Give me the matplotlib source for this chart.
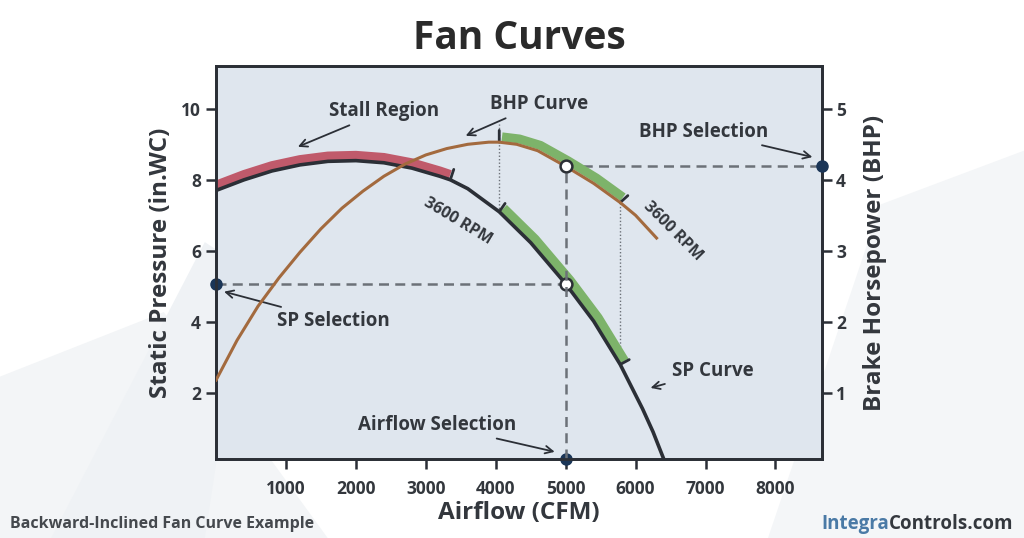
import matplotlib
matplotlib.use("Agg")
import matplotlib.pyplot as plt
from matplotlib.patches import Polygon
from matplotlib.transforms import ScaledTranslation

plt.rcParams["font.family"] = ["Open Sans", "DejaVu Sans"]

# static pressure curve (in.WC)
sp_cfm = [0, 400, 800, 1200, 1600, 2000, 2400, 2800, 3200, 3350, 3600, 4050, 4500,
          5000, 5400, 5780, 6100, 6250, 6400]
sp_val = [7.7, 8.0, 8.25, 8.42, 8.52, 8.54, 8.48, 8.33, 8.1, 8.0, 7.75, 7.1, 6.23,
          5.07, 4.02, 2.8, 1.55, 0.9, 0.15]

# brake horsepower curve (BHP)
bhp_cfm = [0, 300, 600, 900, 1200, 1500, 1800, 2100, 2400, 2700, 3000, 3300, 3600,
           3900, 4050, 4300, 4600, 5000, 5400, 5780, 6000, 6300]
bhp_val = [1.18, 1.74, 2.22, 2.62, 2.98, 3.31, 3.6, 3.84, 4.05, 4.22, 4.35, 4.44, 4.5,
           4.53, 4.53, 4.5, 4.41, 4.19, 3.95, 3.68, 3.5, 3.18]

stall_end = 3350
sel_lo, sel_hi = 4050, 5780
sel_cfm, sel_sp, sel_bhp = 5000, 5.07, 4.19

x_ticks = [1000, 2000, 3000, 4000, 5000, 6000, 7000, 8000]
sp_ticks = [2, 4, 6, 8, 10]
bhp_ticks = [1, 2, 3, 4, 5]

DARK = "#2b2f36"
TXT = "#33373d"
BROWN = "#a36a3e"
RED = "#c05a6b"
GREEN = "#7db36a"
NAVY = "#1a3557"
DASH = "#6c7178"
SCALE = 2.0  # left axis units per right axis unit
XMAX = 8670

fig = plt.figure(figsize=(10.24, 5.38), dpi=100)
fig.patch.set_facecolor("white")

# faint background shapes (behind everything)
for pts, c in [([(0, 0), (0, 0.3), (0.16, 0.42), (0.32, 0)], "#f3f5f7"),
               ([(0.75, 0), (0.86, 0.62), (1, 0.72), (1, 0)], "#f4f6f8"),
               ([(0.05, 0), (0.2, 0.55), (0.24, 0.5), (0.2, 0)], "#eff2f5")]:
    fig.patches.append(Polygon(pts, closed=True, transform=fig.transFigure,
                               facecolor=c, edgecolor="none", zorder=-10))

ax = fig.add_axes([0.211, 0.147, 0.592, 0.730])
ax.set_facecolor("#dfe6ee")
ax.set_xlim(0, XMAX)
ax.set_ylim(0.14, 11.2)
ax2 = ax.twinx()
ax2.set_ylim(0.14 / SCALE, 11.2 / SCALE)


def seg(xs, ys, lo, hi):
    pts = [(x, y) for x, y in zip(xs, ys) if lo <= x <= hi]
    return [p[0] for p in pts], [p[1] for p in pts]


def shifted(axis, dx, dy):
    return axis.transData + ScaledTranslation(dx / 72, dy / 72, fig.dpi_scale_trans)


def end_tick(axis, x, y, dx, dy):
    axis.annotate("", xy=(x, y), xytext=(dx, dy), textcoords="offset points",
                  arrowprops=dict(arrowstyle="-", lw=2, color=DARK, shrinkA=0, shrinkB=0))


def at(xs, ys, x):
    return ys[xs.index(x)]


# stall region band
sx, sy = seg(sp_cfm, sp_val, 0, stall_end)
ax.plot(sx, sy, color=RED, lw=6.5, solid_capstyle="butt", solid_joinstyle="round",
        transform=shifted(ax, 0, 3.8), zorder=3)
end_tick(ax, stall_end, at(sp_cfm, sp_val, stall_end), 2.5, 7.5)

# selection band on SP curve
gx, gy = seg(sp_cfm, sp_val, sel_lo, sel_hi)
ax.plot(gx, gy, color=GREEN, lw=6.5, solid_capstyle="butt", solid_joinstyle="round",
        transform=shifted(ax, 3.2, 2.6), zorder=3)
end_tick(ax, sel_lo, at(sp_cfm, sp_val, sel_lo), 4.2, 6)
end_tick(ax, sel_hi, at(sp_cfm, sp_val, sel_hi), 6.5, 3.5)

# SP curve
ax.plot(sp_cfm, sp_val, color=DARK, lw=2.6, zorder=4, solid_joinstyle="round")

# dotted guides between curves
ax.plot([sel_lo, sel_lo], [at(sp_cfm, sp_val, sel_lo), at(bhp_cfm, bhp_val, sel_lo) * SCALE + 0.5],
        color=DASH, lw=1, ls=(0, (1, 1.5)), zorder=2)
ax.plot([sel_hi, sel_hi], [at(sp_cfm, sp_val, sel_hi), at(bhp_cfm, bhp_val, sel_hi) * SCALE],
        color=DASH, lw=1, ls=(0, (1, 1.5)), zorder=2)

# SP selection dashed line
ax.plot([0, sel_cfm], [sel_sp, sel_sp], color=DASH, lw=1.8, ls=(0, (4, 2.5)), zorder=2)

# BHP band + curve on the right axis
bx, by = seg(bhp_cfm, bhp_val, sel_lo, sel_hi)
ax2.plot(bx, by, color=GREEN, lw=6.5, solid_capstyle="butt", solid_joinstyle="round",
         transform=shifted(ax2, 2, 3.8), zorder=3)
ax2.plot(bhp_cfm, bhp_val, color=BROWN, lw=2.2, zorder=4, solid_joinstyle="round")
end_tick(ax2, sel_lo, at(bhp_cfm, bhp_val, sel_lo), 0, 8.5)
end_tick(ax2, sel_hi, at(bhp_cfm, bhp_val, sel_hi), 5.5, 5)

# selection dashed lines
ax2.plot([sel_cfm, sel_cfm], [0.07, sel_bhp], color=DASH, lw=1.8, ls=(0, (4, 2.5)), zorder=2)
ax2.plot([sel_cfm, XMAX], [sel_bhp, sel_bhp], color=DASH, lw=1.8, ls=(0, (4, 2.5)), zorder=2)

# selection markers
ax.plot([sel_cfm], [sel_sp], "o", ms=8.5, mfc="white", mec=DARK, mew=1.8, zorder=6)
ax2.plot([sel_cfm], [sel_bhp], "o", ms=8.5, mfc="white", mec=DARK, mew=1.8, zorder=6)
ax.plot([0], [sel_sp], "o", ms=8, color=NAVY, clip_on=False, zorder=7)
ax.plot([sel_cfm], [0.14], "o", ms=8, color=NAVY, clip_on=False, zorder=7)
ax2.plot([XMAX], [sel_bhp], "o", ms=8, color=NAVY, clip_on=False, zorder=7)

# spines / ticks
for a in (ax, ax2):
    for s in a.spines.values():
        s.set_color(DARK)
        s.set_linewidth(2)
ax.set_xticks(x_ticks)
ax.set_xticklabels([str(t) for t in x_ticks])
ax.set_yticks(sp_ticks)
ax2.set_yticks(bhp_ticks)
ax.tick_params(axis="both", direction="out", length=7, width=1.8, color=DARK,
               labelsize=12.5, labelcolor=TXT, pad=4)
ax.tick_params(axis="x", pad=8)
ax2.tick_params(axis="y", direction="out", length=7, width=1.8, color=DARK,
                labelsize=12.5, labelcolor=TXT, pad=3)
for lab in ax.get_xticklabels() + ax.get_yticklabels() + ax2.get_yticklabels():
    lab.set_fontweight("bold")

ax.set_xlabel("Airflow (CFM)", fontsize=17.5, fontweight="bold", color=TXT, labelpad=2)
ax.set_ylabel("Static Pressure (in.WC)", fontsize=17.5, fontweight="bold", color=TXT, labelpad=6)
ax2.set_ylabel("Brake Horsepower (BHP)", fontsize=17.5, fontweight="bold", color=TXT,
               labelpad=12, rotation=90)

fig.text(0.507, 0.928, "Fan Curves", ha="center", va="center", fontsize=28,
         fontweight="bold", color="#2a2a2a")

# annotations
arrow = dict(arrowstyle="->", lw=1.3, color=DARK, shrinkA=3, shrinkB=0)
akw = dict(fontsize=13.5, fontweight="bold", color=TXT, ha="center", va="center",
           arrowprops=arrow, annotation_clip=False)
ax.annotate("Stall Region", xy=(1170, 8.93), xytext=(2400, 9.94), **akw)
ax.annotate("BHP Curve", xy=(3570, 9.24), xytext=(4614, 10.14), **akw)
ax.annotate("SP Selection", xy=(114, 4.85), xytext=(1671, 4.03), **akw)
ax.annotate("Airflow Selection", xy=(4843, 0.34), xytext=(3157, 1.1), **akw)
ax.annotate("SP Curve", xy=(6214, 2.14), xytext=(7100, 2.62), **akw)
ax2.annotate("BHP Selection", xy=(8529, 4.32), xytext=(6971, 4.68), **akw)

ax.text(3457, 6.82, "3600 RPM", rotation=-31, fontsize=11.5, fontweight="bold",
        color=TXT, ha="center", va="center", rotation_mode="anchor")
ax.text(6529, 6.54, "3600 RPM", rotation=-45, fontsize=11.5, fontweight="bold",
        color=TXT, ha="center", va="center", rotation_mode="anchor")

# footer
fig.text(0.01, 0.026, "Backward-Inclined Fan Curve Example", fontsize=11.5,
         fontweight="bold", color="#45494e", ha="left", va="center")
t1 = fig.text(0.99, 0.026, "Controls.com", fontsize=13.5, fontweight="bold",
              color="#34383e", ha="right", va="center")
fig.canvas.draw()
bb = t1.get_window_extent()
fig.text(bb.x0 / fig.bbox.width, 0.026, "Integra", fontsize=13.5, fontweight="bold",
         color="#4a7aa6", ha="right", va="center")

fig.savefig("out.png", dpi=100, facecolor="white")
